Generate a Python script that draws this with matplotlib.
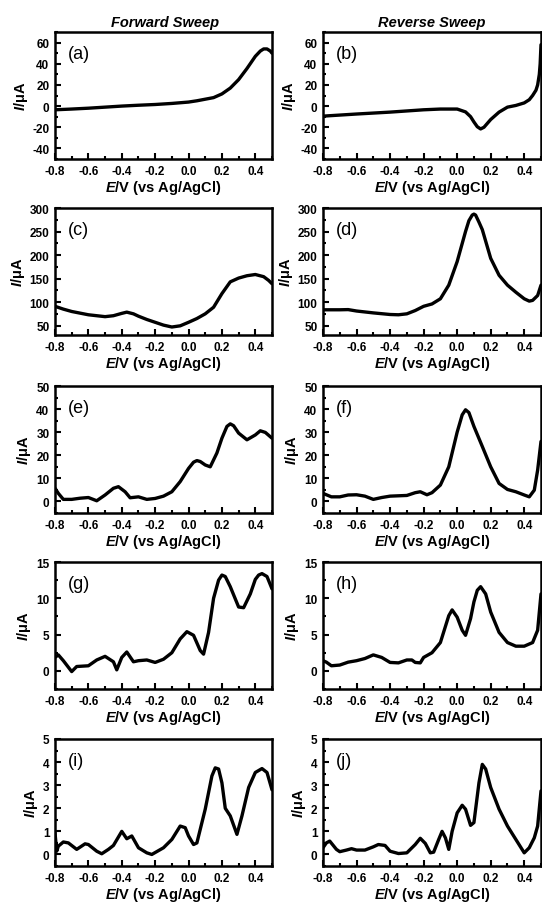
import numpy as np
import matplotlib.pyplot as plt
from matplotlib.ticker import MultipleLocator

plt.rcParams['font.family'] = ['Liberation Sans', 'DejaVu Sans']
plt.rcParams['mathtext.fontset'] = 'custom'
plt.rcParams['mathtext.it'] = 'Liberation Sans:italic:bold'
plt.rcParams['mathtext.rm'] = 'Liberation Sans:bold'
plt.rcParams['axes.unicode_minus'] = False

# (a) forward / (b) reverse
a_E = [-0.8, -0.7, -0.6, -0.5, -0.4, -0.3, -0.2, -0.1, 0.0, 0.05, 0.1, 0.15, 0.2, 0.25,
       0.3, 0.35, 0.4, 0.43, 0.45, 0.47, 0.49, 0.5]
a_I = [-3.5, -2.8, -2.0, -1.0, 0.0, 0.8, 1.5, 2.5, 3.8, 5.0, 6.5, 8.0, 11.5, 17.0,
       25.0, 35.5, 47.0, 52.0, 54.0, 54.0, 52.0, 50.0]
b_E = [-0.8, -0.6, -0.4, -0.2, -0.1, 0.0, 0.05, 0.08, 0.1, 0.12, 0.14, 0.16, 0.2, 0.25,
       0.3, 0.35, 0.4, 0.43, 0.45, 0.47, 0.48, 0.49, 0.495, 0.5]
b_I = [-9.5, -7.5, -5.7, -3.5, -2.8, -2.8, -5.5, -10.0, -15.0, -19.5, -21.6, -20.0, -12.7, -5.7,
       -1.0, 0.6, 3.0, 6.0, 10.0, 15.0, 20.0, 30.0, 40.0, 58.0]

# (c) forward / (d) reverse
c_E = [-0.8, -0.75, -0.7, -0.6, -0.5, -0.45, -0.4, -0.37, -0.33, -0.3, -0.25, -0.2, -0.15,
       -0.1, -0.05, 0.0, 0.05, 0.1, 0.15, 0.2, 0.25, 0.3, 0.35, 0.4, 0.45, 0.48, 0.5]
c_I = [91, 85, 80, 73, 69, 71, 76, 78.6, 75, 70, 63, 57, 51,
       47, 49.5, 57, 65, 75, 89, 118, 143, 151, 156, 158.6, 154, 146, 139]
d_E = [-0.8, -0.7, -0.65, -0.6, -0.5, -0.4, -0.35, -0.3, -0.25, -0.2, -0.15, -0.1, -0.05,
       0.0, 0.05, 0.07, 0.09, 0.1, 0.11, 0.13, 0.15, 0.2, 0.25, 0.3, 0.35, 0.4, 0.43,
       0.45, 0.48, 0.5]
d_I = [83.6, 83.6, 84, 81, 77, 73.6, 73, 75, 82, 91, 96, 107, 136,
       186, 250, 273, 285, 287, 285, 270, 254, 193, 157, 136, 121, 107, 102,
       103.6, 114, 136]

# (e) forward / (f) reverse
e_E = [-0.8, -0.78, -0.75, -0.7, -0.65, -0.6, -0.55, -0.5, -0.45, -0.42, -0.38, -0.35,
       -0.3, -0.25, -0.2, -0.15, -0.1, -0.05, 0.0, 0.03, 0.05, 0.07, 0.1, 0.13, 0.17,
       0.2, 0.23, 0.25, 0.27, 0.3, 0.35, 0.4, 0.43, 0.46, 0.5]
e_I = [5.7, 3.5, 0.9, 0.9, 1.4, 1.7, 0.3, 2.8, 5.7, 6.4, 4.2, 1.6,
       2.0, 0.9, 1.3, 2.3, 4.2, 8.6, 14.3, 17.0, 17.7, 17.3, 15.8, 15.0, 21.0,
       27.4, 32.5, 33.6, 32.8, 29.6, 26.7, 28.8, 30.6, 29.9, 27.4]
f_E = [-0.8, -0.75, -0.7, -0.65, -0.6, -0.55, -0.5, -0.45, -0.4, -0.3, -0.25, -0.22,
       -0.18, -0.15, -0.1, -0.05, 0.0, 0.03, 0.05, 0.07, 0.1, 0.15, 0.2, 0.25, 0.3,
       0.35, 0.4, 0.43, 0.46, 0.48, 0.5]
f_I = [3.5, 2.0, 2.0, 2.8, 2.9, 2.3, 0.9, 1.7, 2.3, 2.6, 3.8, 4.2,
       2.9, 3.8, 7.1, 15.0, 30.0, 37.5, 39.7, 38.5, 32.5, 23.8, 15.0, 7.8, 5.2,
       4.2, 2.8, 2.0, 4.9, 13.6, 26.0]

# (g) forward / (h) reverse
g_E = [-0.8, -0.78, -0.75, -0.7, -0.67, -0.6, -0.55, -0.5, -0.45, -0.43, -0.4, -0.37,
       -0.33, -0.3, -0.25, -0.2, -0.15, -0.1, -0.05, -0.01, 0.03, 0.07, 0.09, 0.12, 0.15,
       0.18, 0.2, 0.22, 0.25, 0.3, 0.33, 0.37, 0.4, 0.42, 0.44, 0.47, 0.5]
g_I = [1.85, 2.2, 1.4, -0.1, 0.6, 0.7, 1.5, 2.0, 1.25, 0.14, 1.85, 2.6,
       1.25, 1.4, 1.5, 1.16, 1.6, 2.5, 4.4, 5.4, 4.9, 2.8, 2.3, 5.3, 10.0,
       12.5, 13.2, 13.0, 11.6, 8.8, 8.7, 10.6, 12.6, 13.2, 13.4, 13.0, 11.3]
h_E = [-0.8, -0.78, -0.75, -0.7, -0.65, -0.6, -0.55, -0.5, -0.45, -0.4, -0.35, -0.3,
       -0.27, -0.25, -0.22, -0.2, -0.15, -0.1, -0.05, -0.03, 0.0, 0.03, 0.05, 0.08,
       0.1, 0.12, 0.14, 0.17, 0.2, 0.25, 0.3, 0.35, 0.4, 0.45, 0.48, 0.5]
h_I = [1.4, 1.2, 0.7, 0.8, 1.2, 1.4, 1.7, 2.2, 1.85, 1.16, 1.1, 1.5,
       1.5, 1.16, 1.1, 1.85, 2.5, 3.9, 7.6, 8.4, 7.4, 5.6, 4.9, 7.2,
       9.5, 11.1, 11.6, 10.6, 8.1, 5.3, 3.9, 3.4, 3.4, 3.9, 5.6, 10.6]

# (i) forward / (j) reverse
i_E = [-0.8, -0.79, -0.78, -0.75, -0.72, -0.67, -0.62, -0.6, -0.55, -0.52, -0.48, -0.45,
       -0.4, -0.37, -0.34, -0.3, -0.25, -0.22, -0.15, -0.1, -0.05, -0.02, 0.0, 0.03,
       0.05, 0.1, 0.14, 0.16, 0.18, 0.2, 0.22, 0.25, 0.29, 0.32, 0.36, 0.4, 0.44, 0.47, 0.5]
i_I = [0.94, 0.14, 0.36, 0.54, 0.5, 0.22, 0.46, 0.43, 0.14, 0.03, 0.22, 0.39,
       1.0, 0.68, 0.8, 0.29, 0.07, 0.0, 0.29, 0.65, 1.23, 1.16, 0.8, 0.43,
       0.5, 1.96, 3.4, 3.75, 3.7, 3.1, 2.0, 1.67, 0.87, 1.67, 2.9, 3.55, 3.72, 3.55, 2.8]
j_E = [-0.8, -0.78, -0.76, -0.72, -0.7, -0.66, -0.63, -0.6, -0.55, -0.5, -0.47, -0.43,
       -0.4, -0.35, -0.3, -0.25, -0.22, -0.19, -0.16, -0.14, -0.11, -0.09, -0.07, -0.05,
       -0.03, 0.0, 0.03, 0.05, 0.08, 0.1, 0.13, 0.15, 0.17, 0.2, 0.25, 0.3, 0.35, 0.4,
       0.43, 0.46, 0.48, 0.5]
j_I = [0.29, 0.5, 0.58, 0.22, 0.12, 0.19, 0.25, 0.19, 0.19, 0.33, 0.43, 0.39,
       0.14, 0.04, 0.07, 0.43, 0.7, 0.48, 0.07, 0.1, 0.65, 1.0, 0.72, 0.22,
       1.0, 1.8, 2.13, 1.96, 1.26, 1.38, 3.1, 3.9, 3.7, 2.9, 1.96, 1.23, 0.65, 0.07,
       0.29, 0.72, 1.23, 2.75]

panels = [
    ('(a)', a_E, a_I, (-50, 70), 20, 10),
    ('(b)', b_E, b_I, (-50, 70), 20, 10),
    ('(c)', c_E, c_I, (30, 300), 50, 25),
    ('(d)', d_E, d_I, (30, 300), 50, 25),
    ('(e)', e_E, e_I, (-5, 50), 10, 5),
    ('(f)', f_E, f_I, (-5, 50), 10, 5),
    ('(g)', g_E, g_I, (-2.5, 15), 5, 2.5),
    ('(h)', h_E, h_I, (-2.5, 15), 5, 2.5),
    ('(i)', i_E, i_I, (-0.5, 5), 1, 0.5),
    ('(j)', j_E, j_I, (-0.5, 5), 1, 0.5),
]

W, H = 542, 904
fig = plt.figure(figsize=(W / 100, H / 100), dpi=100)

col_left = [55, 323]
col_right = [272, 541]
row_top = [33, 209, 387, 563, 740]
ax_h = 127

for k, (lab, E, I, ylim, major, minor) in enumerate(panels):
    r, c = divmod(k, 2)
    x0 = col_left[c]
    w = col_right[c] - x0
    ax = fig.add_axes([x0 / W, 1 - (row_top[r] + ax_h) / H, w / W, ax_h / H])
    ax.plot(E, I, color='black', lw=2.4, solid_joinstyle='round', solid_capstyle='round')
    ax.set_xlim(-0.8, 0.5)
    ax.set_ylim(*ylim)
    ax.xaxis.set_major_locator(MultipleLocator(0.2))
    ax.xaxis.set_minor_locator(MultipleLocator(0.1))
    ax.yaxis.set_major_locator(MultipleLocator(major))
    ax.yaxis.set_minor_locator(MultipleLocator(minor))
    ax.xaxis.set_major_formatter(plt.FuncFormatter(lambda v, p: f'{v:.1f}'.replace('-0.0', '0.0')))
    ax.tick_params(which='both', direction='in', width=1.5, labelsize=8.5, pad=4)
    ax.tick_params(which='major', length=4)
    ax.tick_params(which='minor', length=2.5)
    for t in ax.get_xticklabels() + ax.get_yticklabels():
        t.set_fontweight('bold')
    for s in ax.spines.values():
        s.set_linewidth(1.8)
    ax.set_xlabel(r'$E$/V (vs Ag/AgCl)', fontsize=10.5, fontweight='bold', labelpad=1)
    ax.set_ylabel(r'$I$/μA', fontsize=10.5, fontweight='bold', labelpad=2)
    ax.text(0.06, 0.9, lab, transform=ax.transAxes, fontsize=13, va='top', ha='left')

fig.text(165 / W, 1 - 23 / H, 'Forward Sweep', ha='center', va='center',
         fontsize=10.5, fontweight='bold', style='italic')
fig.text(432 / W, 1 - 23 / H, 'Reverse Sweep', ha='center', va='center',
         fontsize=10.5, fontweight='bold', style='italic')

fig.savefig('out.png', dpi=100)
